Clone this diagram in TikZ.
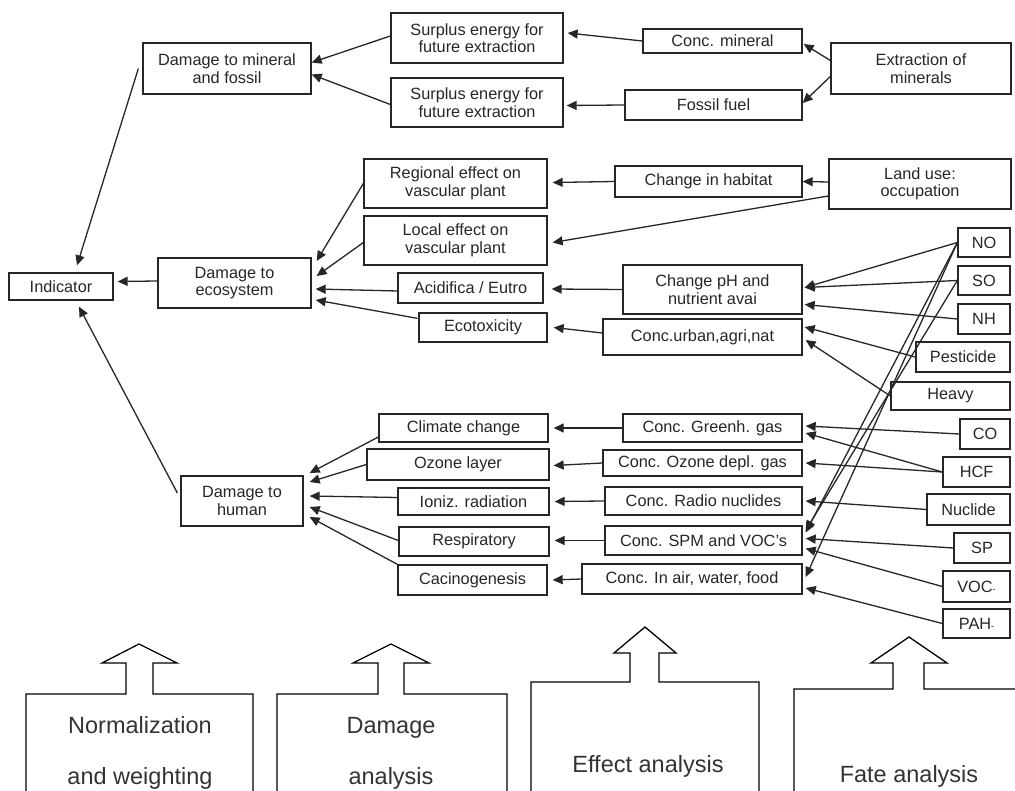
\documentclass[tikz,border=0pt]{standalone}
\usepackage{fontspec}
\setmainfont{Liberation Sans}
\usetikzlibrary{arrows.meta,calc}
\definecolor{ink}{HTML}{262626}
\tikzset{
  box/.style={draw=ink, line width=1.3pt, inner sep=0pt, align=center, text=ink,
              font=\fontsize{16.3}{17.5}\selectfont},
  link/.style={draw=ink, line width=1.3pt, -{Triangle[length=10pt,width=9pt]}},
  stage/.style={draw=black, line width=1.3pt},
  stagetext/.style={text=black!80, inner sep=0pt, anchor=base,
              font=\fontsize{23.5}{26}\selectfont}
}
% \bx{name}{cx}{cy}{width}{height}{text}
\newcommand\bx[6]{\node[box, minimum width=#4pt, minimum height=#5pt] (#1) at (#2,#3) {#6};}

\begin{document}
\begin{tikzpicture}[x=1pt,y=-1pt]
\useasboundingbox (0,0) rectangle (1015,791);
\clip (0,0) rectangle (1015,791);

% ---------- resources ----------
\bx{dmf}{227}{68.5}{168}{51}{Damage to mineral\\and fossil}
\bx{se1}{477}{38}{172}{50}{Surplus energy for\\future extraction}
\bx{se2}{477}{102.5}{172}{49}{Surplus energy for\\future extraction}
\bx{cmin}{722.5}{41}{159}{24}{Conc. mineral}
\bx{ffuel}{713.5}{105}{177}{30}{Fossil fuel}
\bx{extr}{921}{68.5}{180}{51}{Extraction of\\minerals}

% ---------- ecosystem ----------
\bx{ind}{61}{286.5}{104}{27}{Indicator}
\bx{deco}{234.5}{283}{153}{50}{Damage to\\ecosystem}
\bx{reg}{455.5}{183.5}{183}{49}{Regional effect on\\vascular plant}
\bx{loc}{455.5}{240.5}{183}{49}{Local effect on\\vascular plant}
\bx{acid}{470.5}{288}{145}{30}{Acidifica / Eutro}
\bx{ecot}{483}{327.5}{128}{29}{Ecotoxicity}
\bx{hab}{708.5}{181.5}{187}{31}{Change in habitat}
\bx{land}{920}{184}{182}{50}{Land use:\\occupation}
\bx{cph}{712.5}{289.5}{179}{49}{Change pH and\\nutrient avai}
\bx{curb}{702.5}{337}{199}{36}{Conc.urban,agri,nat}
\bx{no}{984}{242.5}{52}{29}{NO}
\bx{so}{984}{280.5}{52}{29}{SO}
\bx{nh}{984}{319}{52}{30}{NH}
\bx{pest}{963}{357}{94}{30}{Pesticide}
\bx{heavy}{950.5}{396}{119}{28}{Heavy}

% ---------- human health ----------
\bx{dhum}{242}{501}{122}{50}{Damage to\\human}
\bx{clim}{463.5}{428}{169}{28}{Climate change}
\bx{ozo}{458}{464.5}{182}{31}{Ozone layer}
\bx{ion}{473.5}{501.5}{151}{27}{Ioniz. radiation}
\bx{resp}{474}{541.5}{150}{29}{Respiratory}
\bx{cac}{472.5}{580}{149}{30}{Cacinogenesis}
\bx{cgh}{712.5}{428}{179}{28}{Conc. Greenh. gas}
\bx{cozd}{702.5}{463}{199}{26}{Conc. Ozone depl. gas}
\bx{crad}{703.5}{501}{197}{28}{Conc. Radio nuclides}
\bx{cspm}{703.5}{540.5}{197}{29}{Conc. SPM and VOC's}
\bx{cair}{692}{579}{220}{30}{Conc. In air, water, food}
\bx{co}{985}{434}{50}{30}{CO}
\bx{hcf}{976.5}{472}{67}{30}{HCF}
\bx{nuc}{968.5}{509.5}{83}{31}{Nuclide}
\bx{sp}{982}{548}{56}{30}{SP}
\bx{voc}{976.5}{586.5}{67}{31}{VOC{\small -}}
\bx{pah}{976.5}{623.5}{67}{29}{PAH{\small -}}

% ---------- connectors: resources ----------
\draw[link] ($(se1.west)+(0,-2)$) -- ($(dmf.east)+(0,-6)$);
\draw[link] ($(se2.west)+(0,2)$) -- ($(dmf.east)+(0,6)$);
\draw[link] (cmin.west) -- ($(se1.east)+(4,-5)$);
\draw[link] (ffuel.west) -- ($(se2.east)+(3,3)$);
\draw[link] ($(extr.west)+(0,-8)$) -- ($(cmin.east)+(1,3)$);
\draw[link] ($(extr.west)+(0,8)$) -- ($(ffuel.east)+(0,-2)$);
\draw[link] ($(dmf.west)+(-4,0)$) -- ($(ind.north)+(16,-7)$);

% ---------- connectors: ecosystem ----------
\draw[link] ($(deco.west)+(0,-2)$) -- ($(ind.east)+(4,-5)$);
\draw[link] ($(dhum.west)+(-3,-8)$) -- ($(ind.south)+(18,6)$);
\draw[link] (reg.west) -- ($(deco.east)+(5,-22)$);
\draw[link] ($(loc.west)+(0,2)$) -- ($(deco.east)+(5,-7)$);
\draw[link] ($(acid.west)+(0,3)$) -- ($(deco.east)+(4,6)$);
\draw[link] ($(ecot.north west)+(-1,6)$) -- ($(deco.east)+(4,17)$);
\draw[link] (hab.west) -- ($(reg.east)+(5,-1)$);
\draw[link] ($(land.west)+(0,-2)$) -- (hab.east);
\draw[link] ($(land.west)+(0,12)$) -- ($(loc.east)+(5,2)$);
\draw[link] (cph.west) -- ($(acid.east)+(8,1)$);
\draw[link] ($(curb.west)+(0,-4)$) -- ($(ecot.east)+(6,0)$);
\draw[link] (no.west) -- ($(cph.east)+(2,-2)$);
\draw[link] (so.west) -- ($(cph.east)+(2,-2)$);
\draw[link] (nh.west) -- ($(cph.east)+(2,15)$);
\draw[link] (pest.west) -- ($(curb.east)+(2,-10)$);
\draw[link] (heavy.west) -- ($(curb.east)+(3,3)$);

% ---------- connectors: human health ----------
\draw[link] (cgh.west) -- ($(clim.east)+(5,0)$);
\draw[link] (cozd.west) -- ($(ozo.east)+(4,1)$);
\draw[link] (crad.west) -- ($(ion.east)+(5,0)$);
\draw[link] (cspm.west) -- ($(resp.east)+(5,-1)$);
\draw[link] (cair.west) -- ($(cac.east)+(5,0)$);
\draw[link] ($(clim.west)+(0,9)$) -- ($(dhum.east)+(6,-28)$);
\draw[link] (ozo.west) -- ($(dhum.east)+(6,-19)$);
\draw[link] ($(ion.west)+(0,-4)$) -- ($(dhum.east)+(6,-5)$);
\draw[link] ($(resp.west)+(0,-1)$) -- ($(dhum.east)+(6,6)$);
\draw[link] (cac.north west) -- ($(dhum.east)+(6,16)$);
\draw[link] (co.west) -- ($(cgh.east)+(3,-2)$);
\draw[link] (hcf.west) -- ($(cgh.east)+(3,5)$);
\draw[link] (hcf.west) -- ($(cozd.east)+(3,0)$);
\draw[link] (nuc.west) -- ($(crad.east)+(3,0)$);
\draw[link] (sp.west) -- ($(cspm.east)+(3,-2)$);
\draw[link] (voc.west) -- ($(cspm.east)+(3,8)$);
\draw[link] (pah.west) -- ($(cair.east)+(3,9)$);
\draw[link] (no.west) -- ($(cspm.east)+(3,-8)$);
\draw[link] (no.west) -- ($(cair.east)+(3,-2)$);
\draw[link] (so.west) -- ($(cspm.east)+(3,-10)$);

% ---------- analysis stages ----------
\draw[stage] (26,800) -- (26,694) -- (126,694) -- (126,663) -- (102,663) -- (139,644)
  -- (177,663) -- (153,663) -- (153,694) -- (253,694) -- (253,800);
\draw[stage] (277,800) -- (277,694) -- (378,694) -- (378,663) -- (353,663) -- (391,644)
  -- (429,663) -- (404,663) -- (404,694) -- (507,694) -- (507,800);
\draw[stage] (531,800) -- (531,682) -- (630,682) -- (630,653) -- (614,653) -- (645,627)
  -- (676,653) -- (659,653) -- (659,682) -- (759,682) -- (759,800);
\draw[stage] (794,800) -- (794,689) -- (893,689) -- (893,663) -- (871,663) -- (909,637)
  -- (947,663) -- (924,663) -- (924,689) -- (1020,689);

\node[stagetext] (nw1) at (140,733) {Normalization};
\node[stagetext] (nw2) at (140,784) {and weighting};
\node[stagetext] (da1) at (391,733) {Damage};
\node[stagetext] (da2) at (391,784) {analysis};
\node[stagetext] (ef) at (648,772) {Effect analysis};
\node[stagetext] (fa) at (909,782) {Fate analysis};
\end{tikzpicture}
\end{document}
